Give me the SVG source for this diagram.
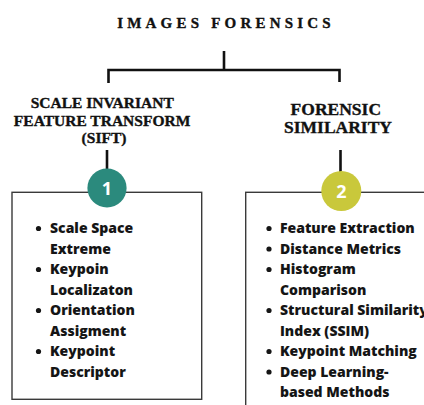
<svg xmlns="http://www.w3.org/2000/svg" width="424" height="405" viewBox="0 0 424 405">
<style>
.bg{fill:#ffffff}
.head{font-family:"Liberation Serif","Times New Roman",serif;font-weight:bold;fill:#111;stroke:#111;stroke-width:0.35;text-anchor:middle}
.conn{stroke:#111;stroke-width:2.6;fill:none}
.box{fill:#ffffff;stroke:#3a3a3a;stroke-width:1.4}
.item{font-family:"Open Sans","Liberation Sans",sans-serif;font-weight:800;font-size:14px;letter-spacing:0px;fill:#151515}
.dot{fill:#151515}
.num{font-family:"Open Sans","Liberation Sans",sans-serif;font-weight:bold;font-size:18px;fill:#ffffff;text-anchor:middle}
</style>
<rect class="bg" x="0" y="0" width="424" height="405"/>

<g id="connectors">
  <path class="conn" d="M224,51 V70 M108.5,83 V70 H339.5 V82"/>
  <path class="conn" d="M107,150 V169"/>
  <path class="conn" d="M340.5,150 V172"/>
</g>

<g id="title">
  <text class="head" x="226" y="28" font-size="15" letter-spacing="4.2">IMAGES FORENSICS</text>
</g>

<g id="sift-heading">
  <text class="head" font-size="15.5">
    <tspan x="104" y="108">SCALE INVARIANT</tspan>
    <tspan x="104" y="125.5">FEATURE TRANSFORM</tspan>
    <tspan x="104" y="143">(SIFT)</tspan>
  </text>
</g>

<g id="similarity-heading">
  <text class="head" font-size="17.5">
    <tspan x="338" y="115">FORENSIC</tspan>
    <tspan x="338" y="133">SIMILARITY</tspan>
  </text>
</g>

<g id="sift-box">
  <rect class="box" x="12" y="192.3" width="189.7" height="207"/>
  <circle class="dot" cx="38.5" cy="228.5" r="2.6"/>
  <circle class="dot" cx="38.5" cy="269.5" r="2.6"/>
  <circle class="dot" cx="38.5" cy="310.5" r="2.6"/>
  <circle class="dot" cx="38.5" cy="351.5" r="2.6"/>
  <text class="item">
    <tspan x="50" y="233">Scale Space</tspan>
    <tspan x="50" y="253.5">Extreme</tspan>
    <tspan x="50" y="274">Keypoin</tspan>
    <tspan x="50" y="294.5">Localizaton</tspan>
    <tspan x="50" y="315">Orientation</tspan>
    <tspan x="50" y="335.5">Assigment</tspan>
    <tspan x="50" y="356">Keypoint</tspan>
    <tspan x="50" y="376.5">Descriptor</tspan>
  </text>
</g>

<g id="similarity-box">
  <rect class="box" x="245.7" y="192.3" width="200" height="240"/>
  <circle class="dot" cx="269" cy="228.5" r="2.6"/>
  <circle class="dot" cx="269" cy="249" r="2.6"/>
  <circle class="dot" cx="269" cy="269.5" r="2.6"/>
  <circle class="dot" cx="269" cy="310.5" r="2.6"/>
  <circle class="dot" cx="269" cy="351.5" r="2.6"/>
  <circle class="dot" cx="269" cy="372" r="2.6"/>
  <text class="item">
    <tspan x="280" y="233">Feature Extraction</tspan>
    <tspan x="280" y="253.5">Distance Metrics</tspan>
    <tspan x="280" y="274">Histogram</tspan>
    <tspan x="280" y="294.5">Comparison</tspan>
    <tspan x="280" y="315">Structural Similarity</tspan>
    <tspan x="280" y="335.5">Index (SSIM)</tspan>
    <tspan x="280" y="356">Keypoint Matching</tspan>
    <tspan x="280" y="376.5">Deep Learning-</tspan>
    <tspan x="280" y="397">based Methods</tspan>
  </text>
</g>

<g id="node-1">
  <circle cx="107" cy="188" r="19.6" fill="#2b8a7d"/>
  <text class="num" x="107" y="194.5">1</text>
</g>

<g id="node-2">
  <circle cx="341.3" cy="191" r="20" fill="#c9c83b"/>
  <text class="num" x="341.3" y="197.5">2</text>
</g>
</svg>
